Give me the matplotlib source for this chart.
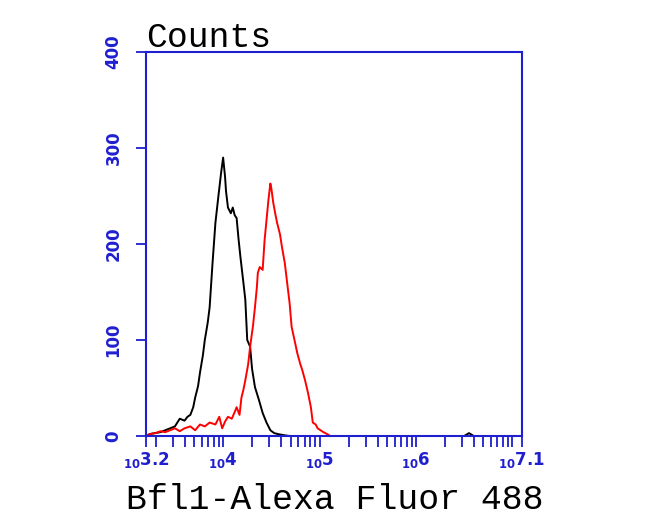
import matplotlib
matplotlib.use("Agg")
import matplotlib.pyplot as plt
from matplotlib.ticker import FixedLocator, LogLocator, NullFormatter
import numpy as np

# fluorescence intensity as log10 positions, counts
control_log = [3.20, 3.24, 3.29, 3.35, 3.40, 3.45, 3.50, 3.55, 3.60, 3.63, 3.66, 3.69,
               3.71, 3.74, 3.76, 3.79, 3.81, 3.84, 3.86, 3.89, 3.92, 3.95, 3.98, 4.00,
               4.02, 4.03, 4.05, 4.08, 4.10, 4.12, 4.14, 4.16, 4.18, 4.21, 4.23, 4.25,
               4.28, 4.30, 4.33, 4.37, 4.41, 4.45, 4.49, 4.53, 4.57, 4.62, 4.69, 4.80,
               5.00, 5.50, 6.00, 6.50, 6.55, 6.60, 7.10]
control_counts = [0, 2, 3, 4, 6, 8, 10, 18, 16, 20, 22, 30,
                  40, 52, 66, 84, 100, 118, 134, 180, 222, 249, 275, 290,
                  270, 255, 238, 232, 238, 230, 227, 205, 186, 160, 142, 100,
                  93, 70, 51, 38, 24, 14, 6, 3, 2, 1, 0, 0,
                  0, 0, 0, 0, 3, 0, 0]

bfl1_log = [3.20, 3.24, 3.30, 3.35, 3.40, 3.45, 3.50, 3.55, 3.60, 3.66, 3.71, 3.76,
            3.81, 3.86, 3.92, 3.96, 3.99, 4.02, 4.05, 4.09, 4.12, 4.14, 4.17, 4.19,
            4.21, 4.23, 4.26, 4.28, 4.31, 4.33, 4.35, 4.36, 4.38, 4.41, 4.43, 4.45,
            4.47, 4.49, 4.50, 4.52, 4.54, 4.56, 4.59, 4.61, 4.64, 4.66, 4.69, 4.71,
            4.74, 4.77, 4.80, 4.82, 4.85, 4.88, 4.91, 4.93, 4.96, 4.98, 5.01, 5.04,
            5.08, 5.11, 5.30, 6.00, 7.10]
bfl1_counts = [0, 2, 3, 5, 4, 6, 8, 5, 8, 10, 6, 12,
               10, 14, 12, 20, 8, 15, 20, 18, 25, 30, 22, 40,
               48, 58, 75, 93, 115, 134, 155, 170, 176, 173, 204, 225,
               246, 263, 258, 243, 232, 222, 210, 197, 180, 163, 138, 114,
               100, 86, 75, 69, 58, 45, 30, 14, 12, 8, 6, 4,
               2, 0, 0, 0, 0]

y_ticks = [0, 100, 200, 300, 400]
x_tick_exps = [3.2, 4, 5, 6, 7.1]
x_tick_labels = ["3.2", "4", "5", "6", "7.1"]

BLUE = "#1f1fd0"

fig = plt.figure(figsize=(6.5, 5.32), dpi=100)
ax = fig.add_axes([146 / 650, 1 - 436 / 532, 376 / 650, 384 / 532])

ax.plot(10 ** np.array(control_log), control_counts, color="black", linewidth=1.4)
ax.plot(10 ** np.array(bfl1_log), bfl1_counts, color="red", linewidth=1.4)

ax.set_xscale("log")
ax.set_xlim(10 ** 3.2, 10 ** 7.1)
ax.set_ylim(0, 400)

for side in ["left", "right", "top", "bottom"]:
    ax.spines[side].set_color(BLUE)
    ax.spines[side].set_linewidth(1.5)

ax.xaxis.set_major_locator(FixedLocator([10 ** e for e in x_tick_exps]))
ax.set_xticklabels([r"$_{\mathbf{10}}\mathbf{" + t + "}$" for t in x_tick_labels])
ax.xaxis.set_minor_locator(LogLocator(base=10, subs=np.arange(1, 10), numticks=20))
ax.xaxis.set_minor_formatter(NullFormatter())
ax.tick_params(axis="x", which="both", direction="out", length=8, width=1.3,
               colors=BLUE, labelsize=12, pad=2)

ax.set_yticks(y_ticks)
ax.set_yticklabels([str(v) for v in y_ticks], rotation=90, va="center",
                   fontweight="bold")
ax.tick_params(axis="y", direction="out", length=7, width=1.3,
               colors=BLUE, labelsize=12, pad=10)

fig.text(146 / 650, 1 - 47 / 532, "Counts", family="Liberation Mono",
         fontsize=25, va="baseline", ha="left")
fig.text(335 / 650, 1 - 509 / 532, "Bfl1-Alexa Fluor 488", family="Liberation Mono",
         fontsize=25, va="baseline", ha="center")

fig.savefig("out.png", dpi=100)
